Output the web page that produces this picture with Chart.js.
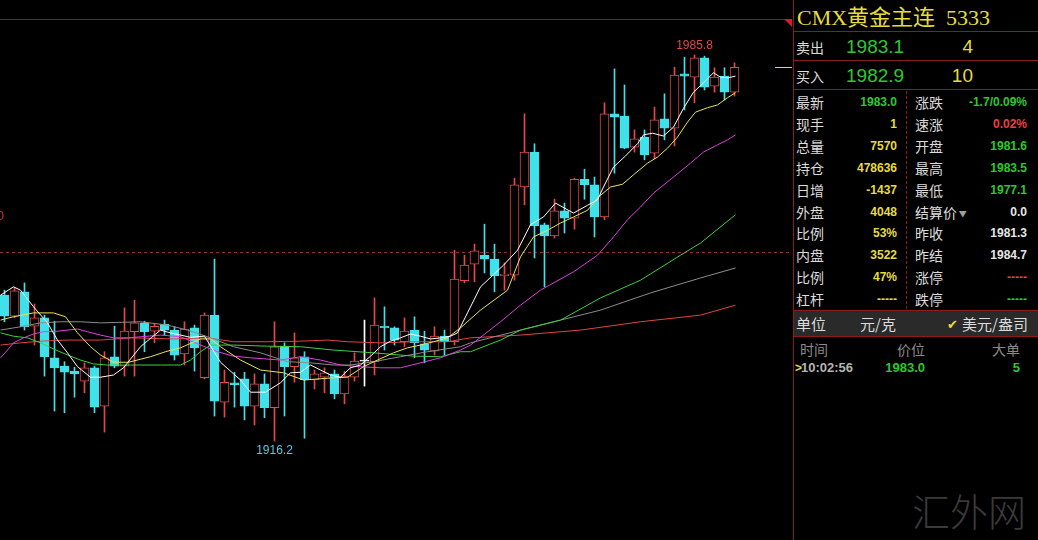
<!DOCTYPE html>
<html>
<head>
<meta charset="utf-8">
<script src="https://cdn.jsdelivr.net/npm/chart.js@4.4.0/dist/chart.umd.min.js"></script>
<style>
  body { margin: 0; background: #000; width: 1038px; height: 540px; overflow: hidden; position: relative;
         font-family: "Noto Sans CJK SC", sans-serif; }
  #chartBox { position: absolute; left: 0; top: 0; width: 792px; height: 540px; }
  .t { position: absolute; white-space: nowrap; line-height: 20px; height: 20px; }
  .cn { font-size: 14px; color: #dcdcdc; }
  .num { font-family: "Liberation Sans", Arial, sans-serif; font-weight: bold; font-size: 12px; }
  .hl { position: absolute; left: 793px; width: 245px; height: 1px; background: #8e1b1b; }
</style>
</head>
<body>
<div id="chartBox"><canvas id="klineCanvas" width="792" height="540"></canvas></div>
<div id="panel"></div>
<script>
// candle data, one entry per bar (oldest first)
const candleOpen = [1942.5, 1938.7, 1943.1, 1936.9, 1938.4, 1931.2, 1929.7, 1928.8, 1927.0, 1929.4,
    1922.5, 1931.4, 1929.7, 1935.9, 1937.5, 1936.0, 1937.3, 1936.2, 1931.9, 1936.6,
    1927.6, 1938.9, 1923.2, 1926.7, 1927.4, 1922.5, 1926.5, 1922.2, 1933.3, 1929.6,
    1931.4, 1927.2, 1927.7, 1928.3, 1924.7, 1927.7, 1930.6, 1930.5, 1936.9, 1936.6,
    1934.1, 1936.2, 1933.7, 1932.4, 1935.1, 1934.1, 1945.1, 1948.1, 1949.7, 1949.0,
    1946.0, 1946.1, 1962.0, 1968.3, 1955.2, 1953.2, 1957.7, 1956.4, 1963.4, 1962.4,
    1956.6, 1975.2, 1974.8, 1969.2, 1971.0, 1968.1, 1974.3, 1972.6, 1982.4, 1981.8,
    1985.3, 1980.2, 1982.0, 1979.1];
const candleHigh = [1943.4, 1943.8, 1944.7, 1940.9, 1938.9, 1937.8, 1930.5, 1929.5, 1930.3, 1929.7,
    1932.3, 1936.9, 1940.2, 1941.6, 1937.8, 1937.3, 1938.0, 1936.8, 1937.7, 1937.1,
    1939.3, 1949.0, 1929.0, 1928.6, 1928.6, 1928.3, 1928.3, 1937.7, 1933.9, 1935.7,
    1932.3, 1929.0, 1929.4, 1929.0, 1928.8, 1932.1, 1938.0, 1942.0, 1940.4, 1936.8,
    1938.4, 1938.6, 1936.0, 1936.8, 1936.2, 1950.6, 1949.7, 1951.7, 1955.3, 1951.7,
    1948.3, 1963.6, 1975.2, 1969.8, 1955.5, 1959.8, 1959.1, 1963.6, 1965.2, 1963.8,
    1977.2, 1983.3, 1980.4, 1972.3, 1972.3, 1976.4, 1978.8, 1983.6, 1985.4, 1985.8,
    1985.6, 1983.5, 1983.5, 1984.4];
const candleLow = [1937.7, 1938.4, 1936.2, 1933.5, 1927.9, 1921.6, 1921.3, 1924.1, 1924.9, 1921.3,
    1917.8, 1929.4, 1927.9, 1927.9, 1932.3, 1933.9, 1935.3, 1930.8, 1929.9, 1928.8,
    1927.4, 1920.7, 1920.5, 1922.3, 1920.0, 1919.1, 1920.4, 1916.2, 1920.7, 1926.8,
    1916.7, 1925.6, 1924.9, 1923.8, 1922.9, 1927.0, 1926.1, 1928.1, 1932.6, 1933.5,
    1933.2, 1931.2, 1930.3, 1931.7, 1931.7, 1933.5, 1944.7, 1944.9, 1946.5, 1943.1,
    1943.4, 1945.2, 1958.8, 1949.2, 1944.0, 1952.8, 1953.7, 1954.4, 1959.8, 1953.0,
    1956.1, 1964.5, 1968.9, 1968.3, 1966.9, 1967.1, 1970.5, 1969.4, 1975.9, 1977.2,
    1979.5, 1979.1, 1977.7, 1978.4];
const candleClose = [1938.7, 1943.3, 1936.8, 1938.4, 1931.4, 1929.4, 1928.6, 1928.3, 1929.4, 1922.3,
    1931.2, 1929.7, 1936.0, 1937.5, 1935.9, 1936.9, 1936.2, 1931.7, 1936.4, 1933.0,
    1938.9, 1923.4, 1926.8, 1926.3, 1922.5, 1926.5, 1922.2, 1933.2, 1929.6, 1931.2,
    1927.2, 1928.3, 1928.5, 1924.7, 1927.9, 1930.6, 1930.6, 1937.1, 1936.6, 1934.4,
    1936.0, 1933.9, 1932.6, 1935.1, 1934.1, 1945.4, 1947.9, 1950.5, 1949.0, 1946.0,
    1946.3, 1962.4, 1968.3, 1955.0, 1953.2, 1957.7, 1956.4, 1963.4, 1962.4, 1956.6,
    1975.2, 1974.6, 1969.0, 1970.7, 1967.8, 1974.1, 1972.6, 1982.2, 1982.0, 1985.3,
    1980.0, 1981.8, 1979.1, 1983.6];

// moving average lines: [bar position, price]
const ma5 = [[-0.4,1942.5],[0.9,1944.0],[1.6,1943.4],[2.9,1940.4],[4.3,1937.5],[5.3,1934.4],[6.3,1932.1],
    [7.3,1929.6],[8.6,1927.7],[9.6,1927.7],[10.9,1928.1],[11.9,1929.4],[13.6,1933.2],[15.6,1936.2],
    [16.6,1935.7],[18.6,1934.9],[20,1935.1],[21.6,1930.4],[23.6,1927.2],[24.6,1925.0],[26.1,1925.0],
    [27.6,1926.7],[28.6,1928.5],[29.6,1928.6],[30.6,1929.9],[31.6,1929.0],[32.6,1928.1],[33.6,1927.7],
    [34.6,1929.4],[35.6,1929.9],[36.6,1931.5],[37.6,1933.2],[38.6,1934.2],[39.6,1934.8],[40.6,1935.5],
    [41.6,1935.1],[42.6,1934.6],[43.6,1934.8],[44.6,1935.1],[45.3,1935.7],[46.3,1939.3],[47.6,1944.0],
    [49.9,1947.9],[51.3,1950.6],[52.6,1955.2],[53.9,1956.6],[55.1,1959.1],[56.9,1957.3],[58.3,1958.7],
    [59.3,1959.7],[59.9,1962.0],[60.9,1965.6],[62.1,1967.6],[63.3,1969.8],[63.9,1971.4],[64.8,1971.7],
    [65.9,1971.2],[66.9,1972.8],[67.9,1976.2],[68.9,1979.1],[69.9,1980.8],[70.9,1982.6],[71.6,1981.8],
    [72.4,1981.7],[73.1,1982.0]];
const ma10 = [[-0.4,1938.0],[0.9,1938.6],[2.9,1939.3],[4.9,1939.3],[6.1,1938.6],[7.3,1935.7],[8.6,1933.2],
    [9.6,1931.7],[10.9,1930.4],[12.4,1930.4],[14.6,1931.4],[16.1,1932.3],[17.6,1933.0],[19.6,1934.6],
    [20.6,1934.6],[21.6,1933.2],[23.6,1930.8],[25.6,1929.0],[27.9,1928.5],[29.9,1927.2],[32.9,1927.6],
    [34.3,1927.7],[35.9,1929.6],[37.3,1930.8],[38.9,1932.1],[40.3,1933.0],[41.6,1933.5],[42.9,1934.1],
    [44.3,1934.8],[45.6,1936.6],[47.6,1939.8],[50.3,1943.4],[51.6,1949.4],[52.9,1953.0],[54.3,1954.2],
    [55.6,1955.5],[56.9,1956.6],[58.3,1957.8],[59.4,1960.2],[60.6,1962.0],[61.8,1962.5],[62.9,1964.2],
    [64.3,1966.3],[65.3,1967.4],[66.3,1969.0],[67.3,1971.0],[68.3,1973.7],[69.1,1975.5],[70.3,1976.3],
    [71.3,1976.8],[72.3,1978.1],[73.1,1979.0]];
const ma20 = [[-0.4,1931.2],[0.3,1932.6],[0.9,1933.9],[1.9,1934.8],[2.9,1935.5],[3.9,1935.9],[5.3,1936.0],
    [7.3,1936.4],[8.3,1935.9],[9.6,1935.3],[10.9,1934.8],[12.4,1934.8],[15.6,1935.3],[17.6,1935.0],
    [19.6,1933.5],[21.3,1932.3],[22.9,1931.5],[24.6,1931.2],[27.6,1930.8],[29.6,1931.4],[31.6,1930.8],
    [33.6,1929.9],[35.6,1929.6],[37.6,1929.4],[39.6,1929.4],[41.6,1930.3],[43.6,1931.2],[45.6,1932.6],
    [46.6,1933.5],[49.6,1937.7],[51.6,1940.7],[53.6,1943.4],[56.9,1946.7],[59.3,1949.7],[60.9,1953.0],
    [62.3,1956.1],[63.6,1958.4],[64.9,1960.9],[66.9,1963.8],[68.6,1966.3],[69.9,1968.3],[71.3,1969.6],
    [72.3,1970.5],[73.1,1971.4]];
const ma40 = [[-0.4,1935.7],[0.9,1935.1],[2.3,1934.8],[3.6,1933.9],[4.9,1932.8],[6.3,1931.7],[7.6,1930.8],
    [8.9,1930.1],[10.3,1929.9],[12.6,1929.9],[15.6,1929.9],[17.6,1929.9],[18.6,1930.8],[19.6,1932.3],
    [20.6,1933.5],[22.9,1933.5],[26.3,1933.3],[29.6,1933.2],[32.9,1932.6],[36.9,1932.1],[40.9,1931.5],
    [43.6,1931.4],[45.6,1932.3],[46.6,1932.3],[49.6,1934.4],[51.6,1936.2],[55.6,1938.0],[59.6,1942.0],
    [63.6,1945.2],[67.6,1949.7],[69.6,1951.9],[73.1,1957.0]];
const ma60 = [[-0.4,1936.2],[1.6,1936.8],[3.6,1937.5],[5.6,1937.7],[7.6,1937.7],[9.6,1937.5],[13.6,1937.7],
    [16.3,1937.1],[18.3,1936.2],[20.3,1935.0],[22.9,1933.2],[25.6,1932.1],[28.3,1930.5],[30.6,1930.3],
    [32.9,1929.9],[34.6,1929.9],[36.9,1930.5],[39.6,1931.4],[42.3,1932.3],[45.6,1933.2],[46.6,1933.9],
    [51.6,1936.2],[55.6,1938.0],[59.6,1939.8],[64.6,1942.9],[69.6,1945.6],[73.1,1947.4]];
const ma120 = [[-0.4,1933.5],[1.6,1933.9],[3.6,1934.2],[6.3,1934.4],[9.6,1934.4],[12.6,1934.8],[16.9,1934.6],
    [20.3,1934.8],[22.9,1934.1],[26.3,1934.1],[29.6,1934.2],[32.3,1934.4],[34.3,1934.1],[37.6,1933.9],
    [40.9,1934.1],[44.3,1934.1],[46.6,1934.8],[51.6,1935.3],[57.6,1936.2],[63.6,1937.7],[69.6,1938.9],
    [73.1,1940.7]];

const refPrice = 1950.3;    // dashed reference line
const cutLabel = '0';       // clipped scale label at the left edge
const cutLabelPrice = 1956.6;

// quote panel text
const titleName = 'CMX黄金主连';
const titleCode = '5333';
const askBid = [['卖出', '1983.1', '4'], ['买入', '1982.9', '10']];
const leftNames = ['最新', '现手', '总量', '持仓', '日增', '外盘', '比例', '内盘', '比例', '杠杆'];
const leftValues = ['1983.0', '1', '7570', '478636', '-1437', '4048', '53%', '3522', '47%', '-----'];
const rightNames = ['涨跌', '速涨', '开盘', '最高', '最低', '结算价', '昨收', '昨结', '涨停', '跌停'];
const rightValues = ['-1.7/0.09%', '0.02%', '1981.6', '1983.5', '1977.1', '0.0', '1981.3', '1984.7', '-----', '-----'];
const tickHeader = ['时间', '价位', '大单'];
const tickRow = ['10:02:56', '1983.0', '5'];

const UP = '#ea4646', DOWN = '#3fe2ea', FLAT = '#ffffff';
const GREEN = '#2cc82c', YELLOW = '#e6dc3c', FRAME = '#8e1b1b';

document.addEventListener('DOMContentLoaded', function() {
    buildPanel();
    drawKline();
});

function candleColor(i) {
    if (candleClose[i] > candleOpen[i]) return UP;
    if (candleClose[i] < candleOpen[i]) return DOWN;
    return FLAT;
}

function drawKline() {
    const n = candleOpen.length;
    const idx = Array.from({ length: n }, (_, i) => i);
    const colors = idx.map(candleColor);
    const bodyFill = idx.map(i => colors[i] === UP ? '#000000' : colors[i]);
    const toXY = arr => arr.map(p => ({ x: p[0], y: p[1] }));
    const maLine = (data, color) => ({
        type: 'line', data: toXY(data), borderColor: color, borderWidth: 1,
        pointRadius: 0, tension: 0, order: 1
    });

    const overlay = {
        id: 'overlay',
        beforeDatasetsDraw(chart) {
            const ctx = chart.ctx, ys = chart.scales.y;
            ctx.save();
            ctx.strokeStyle = FRAME;
            ctx.lineWidth = 1;
            ctx.beginPath();
            ctx.moveTo(0, 19.5);
            ctx.lineTo(chart.width, 19.5);
            ctx.stroke();
            const ry = Math.round(ys.getPixelForValue(refPrice)) + 0.5;
            ctx.strokeStyle = '#a02828';
            ctx.setLineDash([3, 3]);
            ctx.beginPath();
            ctx.moveTo(0, ry);
            ctx.lineTo(chart.width, ry);
            ctx.stroke();
            ctx.restore();
        },
        afterDraw(chart) {
            const ctx = chart.ctx, xs = chart.scales.x, ys = chart.scales.y;
            ctx.save();
            ctx.font = '12px "Liberation Sans", Arial, sans-serif';
            ctx.textAlign = 'center';
            // highest high / lowest low markers
            const hi = Math.max(...candleHigh), lo = Math.min(...candleLow);
            const hiI = candleHigh.indexOf(hi), loI = candleLow.indexOf(lo);
            ctx.fillStyle = '#e04a4a';
            ctx.textBaseline = 'bottom';
            ctx.fillText(hi.toFixed(1), xs.getPixelForValue(hiI), ys.getPixelForValue(hi) - 3);
            ctx.fillStyle = '#5cc8e0';
            ctx.textBaseline = 'top';
            ctx.fillText(lo.toFixed(1), xs.getPixelForValue(loI), ys.getPixelForValue(lo) + 4);
            // clipped label on the left edge
            ctx.fillStyle = '#d03030';
            ctx.textAlign = 'right';
            ctx.textBaseline = 'middle';
            ctx.fillText(cutLabel, 4, ys.getPixelForValue(cutLabelPrice));
            // last price tick at the right
            const ly = Math.round(ys.getPixelForValue(candleClose[n - 1])) + 0.5;
            ctx.strokeStyle = YELLOW;
            ctx.lineWidth = 1;
            ctx.beginPath();
            ctx.moveTo(775, ly);
            ctx.lineTo(chart.width, ly);
            ctx.stroke();
            // corner marker
            ctx.fillStyle = '#d02020';
            ctx.beginPath();
            ctx.moveTo(784, 19);
            ctx.lineTo(792, 19);
            ctx.lineTo(792, 27);
            ctx.closePath();
            ctx.fill();
            ctx.restore();
        }
    };

    new Chart(document.getElementById('klineCanvas'), {
        type: 'bar',
        data: {
            datasets: [
                {
                    // wicks
                    data: idx.map(i => ({ x: i, y: [candleLow[i], candleHigh[i]] })),
                    backgroundColor: colors, borderWidth: 0, barThickness: 1,
                    minBarLength: 1, grouped: false, order: 3
                },
                {
                    // bodies
                    data: idx.map(i => ({ x: i, y: [candleOpen[i], candleClose[i]] })),
                    backgroundColor: bodyFill, borderColor: colors, borderWidth: 1,
                    borderSkipped: false, barThickness: 9, minBarLength: 1,
                    grouped: false, order: 2
                },
                maLine(ma5, '#ffffff'),
                maLine(ma10, '#e8e45a'),
                maLine(ma20, '#e040e0'),
                maLine(ma40, '#3cd23c'),
                maLine(ma60, '#8c8c8c'),
                maLine(ma120, '#e04444')
            ]
        },
        options: {
            responsive: false,
            animation: false,
            devicePixelRatio: 1,
            layout: { padding: 0 },
            plugins: { legend: { display: false }, tooltip: { enabled: false } },
            scales: {
                x: { type: 'linear', min: -0.45, max: 78.75, display: false, offset: false },
                y: { type: 'linear', min: 1898.35, max: 1995.72, display: false }
            }
        },
        plugins: [overlay]
    });
}

function put(parent, text, cls, style) {
    const el = document.createElement('div');
    el.className = 't ' + cls;
    el.textContent = text;
    Object.assign(el.style, style);
    parent.appendChild(el);
    return el;
}

function buildPanel() {
    const panel = document.getElementById('panel');
    const box = (style) => {
        const el = document.createElement('div');
        el.style.position = 'absolute';
        Object.assign(el.style, style);
        panel.appendChild(el);
    };
    // frame
    box({ left: '793px', top: '0px', width: '1px', height: '540px', background: FRAME });
    [31, 60, 89, 310, 336].forEach(y => box({ left: '793px', top: y + 'px', width: '245px', height: '1px', background: FRAME }));
    box({ left: '906px', top: '91px', width: '0px', height: '218px', borderLeft: '1px dashed #8e1b1b' });
    box({ left: '794px', top: '311px', width: '244px', height: '25px', background: '#2a2a2a' });

    // title
    put(panel, titleName, '', { left: '797px', top: '5px', fontSize: '22px', lineHeight: '26px', height: '26px',
        color: YELLOW, fontFamily: '"Liberation Serif", "Noto Sans CJK SC", serif' });
    put(panel, titleCode, '', { left: '946px', top: '5px', fontSize: '22px', lineHeight: '26px', height: '26px',
        color: YELLOW, fontFamily: '"Liberation Serif", serif' });

    // ask / bid
    askBid.forEach((row, k) => {
        const cy = 47 + k * 29;
        put(panel, row[0], 'cn', { left: '796px', top: (cy - 10) + 'px' });
        put(panel, row[1], '', { left: '846px', top: (cy - 11) + 'px', fontSize: '19px', lineHeight: '22px',
            height: '22px', color: GREEN, fontFamily: '"Liberation Sans", Arial, sans-serif' });
        put(panel, row[2], '', { right: (1038 - 973) + 'px', top: (cy - 11) + 'px', fontSize: '19px', lineHeight: '22px',
            height: '22px', color: YELLOW, fontFamily: '"Liberation Sans", Arial, sans-serif' });
    });

    // detail rows
    const leftColors = [GREEN, YELLOW, YELLOW, YELLOW, YELLOW, YELLOW, YELLOW, YELLOW, YELLOW, YELLOW];
    const rightColors = [GREEN, '#e84040', GREEN, GREEN, GREEN, '#e6e6e6', '#e6e6e6', '#e6e6e6', '#e84040', GREEN];
    leftNames.forEach((name, k) => {
        const top = Math.round(102 + k * 21.9) - 10;
        put(panel, name, 'cn', { left: '796px', top: top + 'px' });
        put(panel, leftValues[k], 'num', { right: (1038 - 897) + 'px', top: top + 'px', color: leftColors[k] });
        const rn = put(panel, rightNames[k], 'cn', { left: '915px', top: top + 'px' });
        if (rightNames[k] === '结算价') {
            const arrow = document.createElement('span');
            arrow.textContent = ' ▼';
            arrow.style.fontSize = '8px';
            arrow.style.color = '#a0a0a0';
            arrow.style.verticalAlign = 'middle';
            rn.appendChild(arrow);
        }
        put(panel, rightValues[k], 'num', { right: (1038 - 1027) + 'px', top: top + 'px', color: rightColors[k] });
    });

    // unit row
    put(panel, '单位', 'cn', { left: '796px', top: '314px', fontSize: '15px' });
    put(panel, '元/克', 'cn', { left: '860px', top: '314px', fontSize: '15px' });
    put(panel, '✔', '', { left: '947px', top: '314px', fontSize: '13px', color: YELLOW });
    put(panel, '美元/盎司', 'cn', { left: '962px', top: '314px', fontSize: '15px' });

    // latest ticks
    const hx = [800, 897, 992];
    tickHeader.forEach((h, k) => put(panel, h, 'cn', { left: hx[k] + 'px', top: '339px', color: '#8a8a8a' }));
    put(panel, '>', 'num', { left: '795px', top: '358px', color: YELLOW });
    put(panel, tickRow[0], 'num', { left: '801px', top: '358px', color: '#b4b4b4', fontSize: '13px' });
    put(panel, tickRow[1], 'num', { right: (1038 - 925) + 'px', top: '358px', color: GREEN, fontSize: '13px' });
    put(panel, tickRow[2], 'num', { right: (1038 - 1020) + 'px', top: '358px', color: GREEN, fontSize: '13px' });

    // watermark
    put(panel, '汇外网', '', { left: '912px', top: '488px', fontSize: '38px', lineHeight: '44px', height: '44px',
        color: '#3a3a3a', fontWeight: '300' });
}
</script>
</body>
</html>
